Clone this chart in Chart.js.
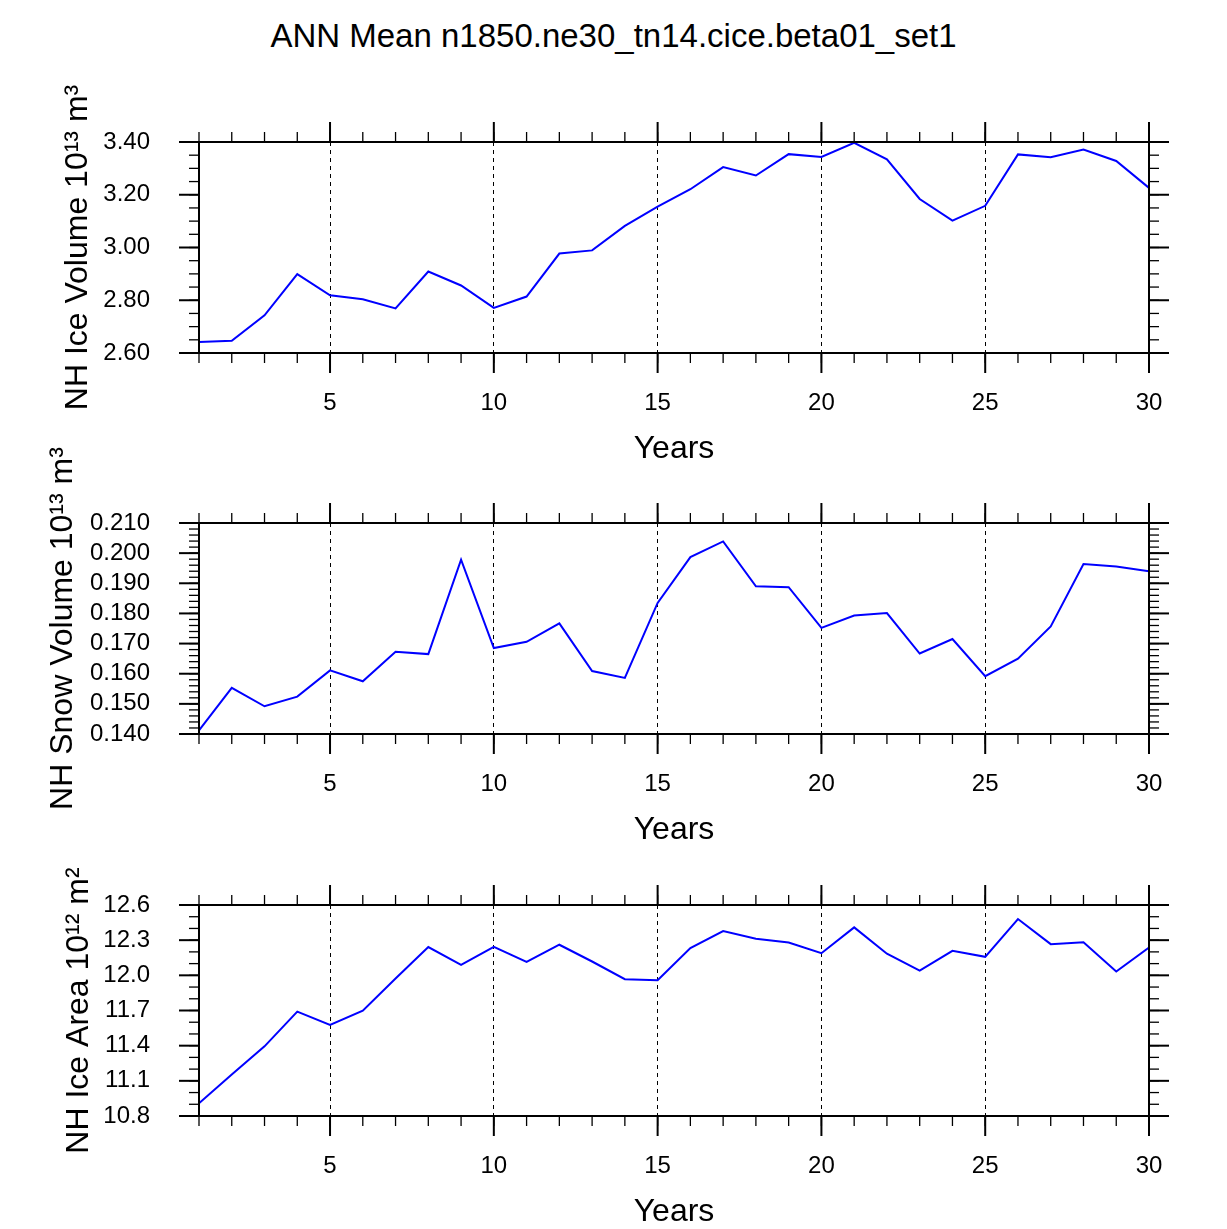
<!DOCTYPE html>
<html>
<head>
<meta charset="utf-8">
<script src="https://cdn.jsdelivr.net/npm/chart.js@4.4.1/dist/chart.umd.min.js"></script>
<style>
  html, body { margin: 0; padding: 0; background: #fff; }
  body { width: 1227px; height: 1229px; position: relative; overflow: hidden; font-family: "Liberation Sans", Arial, sans-serif; }
  #title { position: absolute; left: 0; top: 16px; width: 1227px; text-align: center; font-size: 33px; line-height: 40px; color: #000; }
  canvas { position: absolute; left: 0; }
</style>
</head>
<body>
<div id="title">ANN Mean n1850.ne30_tn14.cice.beta01_set1</div>
<canvas id="c1" width="1227" height="414" style="top:52px"></canvas>
<canvas id="c2" width="1227" height="414" style="top:433px"></canvas>
<canvas id="c3" width="1227" height="414" style="top:815px"></canvas>
<script>
// Datos
const years = [1, 2, 3, 4, 5, 6, 7, 8, 9, 10, 11, 12, 13, 14, 15, 16, 17, 18, 19, 20, 21, 22, 23, 24, 25, 26, 27, 28, 29, 30];

const iceVolume = [2.642, 2.646, 2.743, 2.899, 2.819, 2.804, 2.769, 2.909, 2.856, 2.771,
  2.814, 2.977, 2.989, 3.082, 3.155, 3.221, 3.305, 3.273, 3.354, 3.343,
  3.397, 3.334, 3.184, 3.102, 3.158, 3.353, 3.342, 3.371, 3.328, 3.226];

const snowVolume = [0.1412, 0.1553, 0.1492, 0.1524, 0.1611, 0.1575, 0.1673, 0.1665, 0.1978, 0.1685,
  0.1706, 0.1767, 0.1609, 0.1586, 0.1835, 0.1987, 0.2039, 0.1890, 0.1887, 0.1752,
  0.1793, 0.1801, 0.1667, 0.1715, 0.1592, 0.1650, 0.1757, 0.1964, 0.1956, 0.1940];

const iceArea = [10.909, 11.154, 11.394, 11.690, 11.576, 11.699, 11.973, 12.241, 12.089, 12.243,
  12.115, 12.261, 12.118, 11.967, 11.958, 12.232, 12.378, 12.312, 12.280, 12.189,
  12.409, 12.184, 12.041, 12.209, 12.158, 12.480, 12.266, 12.283, 12.032, 12.238];

// Ticks
const xTicks = [5, 10, 15, 20, 25, 30];
const xTickLabels = ['5', '10', '15', '20', '25', '30'];

const iceVolTicks = [2.6, 2.8, 3.0, 3.2, 3.4];
const iceVolLabels = ['2.60', '2.80', '3.00', '3.20', '3.40'];

const snowVolTicks = [0.14, 0.15, 0.16, 0.17, 0.18, 0.19, 0.20, 0.21];
const snowVolLabels = ['0.140', '0.150', '0.160', '0.170', '0.180', '0.190', '0.200', '0.210'];

const iceAreaTicks = [10.8, 11.1, 11.4, 11.7, 12.0, 12.3, 12.6];
const iceAreaLabels = ['10.8', '11.1', '11.4', '11.7', '12.0', '12.3', '12.6'];

const FONT = '"Liberation Sans", Arial, sans-serif';

function steps(min, max, step) {
  const out = [];
  const n = Math.round((max - min) / step);
  for (let i = 0; i <= n; i++) out.push(min + i * step);
  return out;
}

// Marco y marcas de escala en los cuatro lados
const frameTicks = {
  id: 'frameTicks',
  afterDraw(chart, args, opts) {
    const { ctx, chartArea: a, scales: { x, y } } = chart;
    ctx.save();
    ctx.strokeStyle = '#000';
    ctx.lineCap = 'butt';

    const line = (x1, y1, x2, y2) => {
      ctx.beginPath();
      ctx.moveTo(x1, y1);
      ctx.lineTo(x2, y2);
      ctx.stroke();
    };

    const drawX = (vals, len) => {
      vals.forEach(v => {
        const px = x.getPixelForValue(v);
        line(px, a.top - len, px, a.top);
        line(px, a.bottom, px, a.bottom + len);
      });
    };
    const drawY = (vals, len) => {
      vals.forEach(v => {
        const py = y.getPixelForValue(v);
        line(a.left - len, py, a.left, py);
        line(a.right, py, a.right + len, py);
      });
    };

    ctx.lineWidth = 1.3;
    drawX(opts.xMinor, 10);
    drawY(opts.yMinor, 10);
    ctx.lineWidth = 2;
    drawX(opts.xMajor, 20);
    drawY(opts.yMajor, 20);

    ctx.lineWidth = 2;
    ctx.strokeRect(a.left, a.top, a.right - a.left, a.bottom - a.top);
    ctx.restore();
  }
};

function makePanel(id, values, yTicks, yLabels, yMinorStep, yTitle, titlePad) {
  const yMin = yTicks[0];
  const yMax = yTicks[yTicks.length - 1];
  return new Chart(document.getElementById(id), {
    type: 'line',
    data: {
      datasets: [{
        data: years.map((yr, i) => ({ x: yr, y: values[i] })),
        borderColor: '#0000ff',
        borderWidth: 2,
        pointRadius: 0,
        tension: 0,
        fill: false
      }]
    },
    options: {
      responsive: false,
      animation: false,
      devicePixelRatio: 1,
      layout: { padding: { top: 90, left: 0, right: 78, bottom: 0 } },
      plugins: {
        legend: { display: false },
        tooltip: { enabled: false },
        frameTicks: {
          xMajor: xTicks,
          xMinor: years,
          yMajor: yTicks,
          yMinor: steps(yMin, yMax, yMinorStep)
        }
      },
      scales: {
        x: {
          type: 'linear',
          min: years[0],
          max: years[years.length - 1],
          afterBuildTicks: axis => { axis.ticks = xTicks.map(v => ({ value: v })); },
          afterFit: axis => { axis.height = 113; },
          border: { display: false, dash: [4, 4] },
          grid: {
            drawTicks: false,
            lineWidth: 1,
            color: c => (c.tick && c.tick.value < years[years.length - 1]) ? '#000' : 'rgba(0,0,0,0)'
          },
          ticks: {
            autoSkip: false,
            maxRotation: 0,
            padding: 36,
            color: '#000',
            font: { family: FONT, size: 24 },
            callback: (v, i) => xTickLabels[i]
          },
          title: {
            display: true,
            text: 'Years',
            color: '#000',
            font: { family: FONT, size: 32 },
            padding: { top: 0, bottom: -2 }
          }
        },
        y: {
          type: 'linear',
          min: yMin,
          max: yMax,
          afterBuildTicks: axis => { axis.ticks = yTicks.map(v => ({ value: v })); },
          afterFit: axis => { axis.width = 199; },
          border: { display: false },
          grid: { display: false },
          ticks: {
            autoSkip: false,
            padding: 41,
            color: '#000',
            font: { family: FONT, size: 24 },
            callback: (v, i) => yLabels[i]
          },
          title: {
            display: true,
            text: yTitle,
            color: '#000',
            font: { family: FONT, size: 32 },
            padding: { top: titlePad, bottom: 0 }
          }
        }
      }
    },
    plugins: [frameTicks]
  });
}

makePanel('c1', iceVolume, iceVolTicks, iceVolLabels, 0.05, 'NH Ice Volume 10\u00b9\u00b3 m\u00b3', 59);
makePanel('c2', snowVolume, snowVolTicks, snowVolLabels, 0.002, 'NH Snow Volume 10\u00b9\u00b3 m\u00b3', 44);
makePanel('c3', iceArea, iceAreaTicks, iceAreaLabels, 0.1, 'NH Ice Area 10\u00b9\u00b2 m\u00b2', 60);
</script>
</body>
</html>
